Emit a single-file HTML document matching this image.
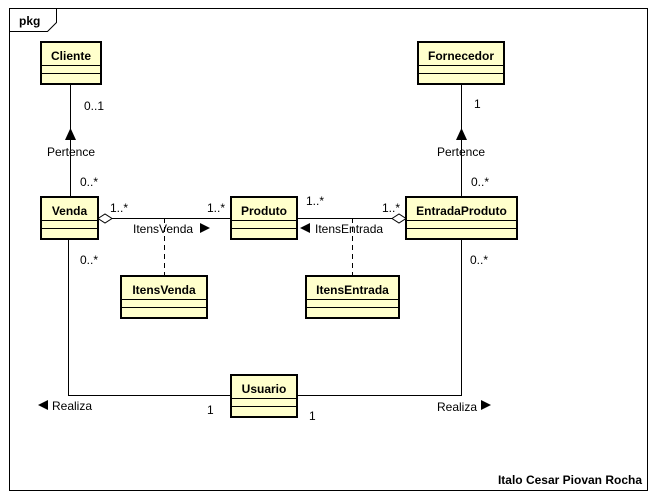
<!DOCTYPE html><html><head><style>body{margin:0;background:#fff}svg{display:block}text{font-family:"Liberation Sans",sans-serif;font-size:12px}</style></head><body>
<svg width="657" height="499" xmlns="http://www.w3.org/2000/svg">
<rect x="9.5" y="8.5" width="638" height="482" fill="#fff" stroke="#000"/>
<path d="M9.5 31.5H47.5L56.5 22.5V8.5" fill="none" stroke="#000"/>
<text x="19" y="25" font-weight="bold">pkg</text>
<g fill="none" stroke="#000">
<path d="M70.5 84V197M461.5 84V197"/>
<path d="M112 218.5H231M297 218.5H392"/>
<path d="M68.5 239V395.5H231M461.5 239V395.5H297"/>
<path d="M164.5 218V276M352.5 218V276" stroke-dasharray="5,4"/>
<path d="M98 218.5L105 214L112 218.5L105 223Z" fill="#fff"/>
<path d="M392 218.5L399 214L406 218.5L399 223Z" fill="#fff"/>
</g>
<path d="M70.5 128L65 140H76Z M461.5 128L456 140H467Z"/>
<path d="M200 223L210 228L200 233Z M310 223L300 228L310 233Z M38 405L48 400V410Z M481 400L491 405L481 410Z"/>
<g stroke="#000" stroke-width="2" fill="#ffffcc">
<rect x="41" y="42" width="60" height="42"/><rect x="418" y="42" width="86" height="42"/>
<rect x="41" y="197" width="57" height="42"/><rect x="231" y="197" width="66" height="42"/>
<rect x="406" y="197" width="111" height="42"/><rect x="121" y="276" width="86" height="42"/>
<rect x="306" y="276" width="93" height="42"/><rect x="231" y="375" width="66" height="42"/>
</g>
<g stroke="#000" stroke-width="1">
<path d="M41 65.5H101M41 73.5H101M418 65.5H504M418 73.5H504M41 220.5H98M41 228.5H98M231 220.5H297M231 228.5H297M406 220.5H517M406 228.5H517M121 299.5H207M121 307.5H207M306 299.5H399M306 307.5H399M231 398.5H297M231 406.5H297"/>
</g>
<g font-weight="bold" text-anchor="middle">
<text x="71" y="60">Cliente</text><text x="461" y="60">Fornecedor</text>
<text x="69.5" y="215">Venda</text><text x="264" y="215">Produto</text>
<text x="461.5" y="215">EntradaProduto</text><text x="164" y="294">ItensVenda</text>
<text x="352.5" y="294">ItensEntrada</text><text x="264" y="393">Usuario</text>
</g>
<text x="84" y="110">0..1</text><text x="47" y="156">Pertence</text><text x="80" y="186">0..*</text>
<text x="474" y="108">1</text><text x="437" y="156">Pertence</text><text x="471" y="186">0..*</text>
<text x="110" y="212">1..*</text><text x="207" y="212">1..*</text>
<text x="306" y="205">1..*</text><text x="382" y="212">1..*</text>
<text x="133" y="233">ItensVenda</text><text x="315" y="233">ItensEntrada</text>
<text x="80" y="264">0..*</text><text x="470" y="264">0..*</text>
<text x="52" y="410">Realiza</text><text x="207" y="414">1</text><text x="309" y="420">1</text><text x="437" y="411">Realiza</text>
<text x="642" y="484" font-weight="bold" text-anchor="end">Italo Cesar Piovan Rocha</text>
</svg></body></html>
